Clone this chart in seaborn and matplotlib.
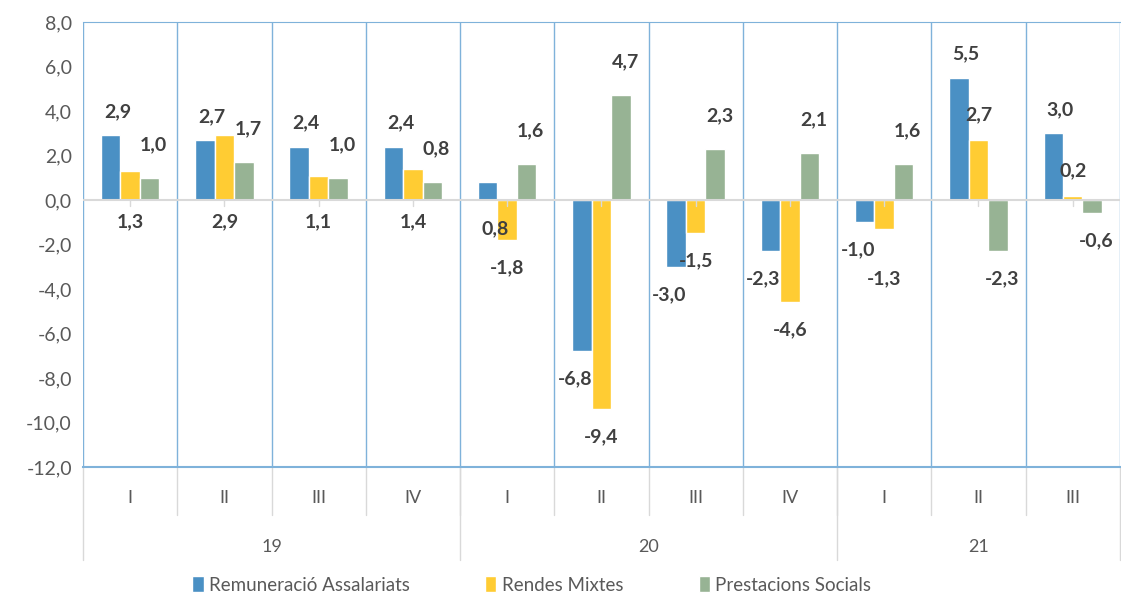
import pandas as pd
import numpy as np
import seaborn as sns
import matplotlib.pyplot as plt
from matplotlib.transforms import blended_transform_factory

years = ["19", "20", "21"]
quarters = ["I", "II", "III", "IV", "I", "II", "III", "IV", "I", "II", "III"]
quarter_year = ["19", "19", "19", "19", "20", "20", "20", "20", "21", "21", "21"]
remuneracio = [2.9, 2.7, 2.4, 2.4, 0.8, -6.8, -3.0, -2.3, -1.0, 5.5, 3.0]
rendes = [1.3, 2.9, 1.1, 1.4, -1.8, -9.4, -1.5, -4.6, -1.3, 2.7, 0.2]
prestacions = [1.0, 1.7, 1.0, 0.8, 1.6, 4.7, 2.3, 2.1, 1.6, -2.3, -0.6]
series_names = ["Remuneració Assalariats", "Rendes Mixtes", "Prestacions Socials"]
colors = ["#4A90C4", "#FFCC33", "#97B394"]

keys = [f"{y}-{q}" for y, q in zip(quarter_year, quarters)]
df = pd.DataFrame({
    "periode": keys * 3,
    "serie": np.repeat(series_names, len(keys)),
    "valor": remuneracio + rendes + prestacions,
})

sns.set_style("white")
plt.rcParams["font.family"] = ["Lato", "DejaVu Sans"]

fig = plt.figure(figsize=(11.21, 5.99), dpi=100)
ax = fig.add_axes([83 / 1121, 132 / 599, 1 - 83 / 1121 - 0.001, (467 - 22) / 599])

sns.barplot(data=df, x="periode", y="valor", hue="serie", order=keys,
            hue_order=series_names, palette=colors, width=0.62,
            saturation=1, ax=ax, legend=True)

ax.set_ylim(-12, 8)
ax.set_xlim(-0.5, len(keys) - 0.5)
yt = np.arange(-12, 9, 2)
ax.set_yticks(yt)
ax.set_yticklabels([f"{v:.1f}".replace(".", ",") for v in yt],
                   color="#595959", fontsize=14)
ax.set_xticks([])
ax.set_xlabel("")
ax.set_ylabel("")
ax.tick_params(axis="y", length=0, pad=8)

for side in ["left", "right"]:
    ax.spines[side].set_visible(False)
ax.spines["top"].set_color("#7FB2DA")
ax.spines["bottom"].set_color("#7FB2DA")
ax.spines["bottom"].set_linewidth(1.5)

# separadors entre trimestres
for i in range(len(keys) + 1):
    ax.axvline(i - 0.5, color="#7FB2DA", lw=1, zorder=0)
ax.axhline(0, color="#D9D9D9", lw=1.5, zorder=1)
for i in range(len(keys)):
    ax.plot([i, i], [0, -0.25], color="#D9D9D9", lw=1, zorder=1)

# etiquetes de dades (com a l'Excel, algunes van sota l'eix quan hi ha poc espai)
vals = [remuneracio, rendes, prestacions]
for k, (cont, sv) in enumerate(zip(ax.containers, vals)):
    for i, (bar, v) in enumerate(zip(cont, sv)):
        x = bar.get_x() + bar.get_width() / 2
        y = v
        dx = [5, 0, 3][k]
        if v >= 0:
            off = [17, 18, 24][k]
            if k == 1 and prestacions[i] > 0:
                y, off = 0, -16
            if k == 0 and rendes[i] < 0:
                y, off = 0, -21
        else:
            off = -20
            if k == 0:
                dx = -5
            if k == 1 and remuneracio[i] < 0 and abs(v - remuneracio[i]) < 0.5:
                off = -36
        ax.annotate(f"{v:.1f}".replace(".", ","), (x, y), xytext=(dx, off),
                    textcoords="offset points", ha="center", va="center",
                    fontsize=14, fontweight="bold", color="#404040")

# eix de categories jeràrquic
tr = blended_transform_factory(ax.transData, ax.transAxes)
for i, q in enumerate(quarters):
    ax.text(i, -31 / 445, q, transform=tr, ha="center", va="center",
            fontsize=13, color="#595959")
for i in range(1, len(keys)):
    ax.plot([i - 0.5, i - 0.5], [0, -48 / 445], transform=tr, color="#D9D9D9",
            lw=1, clip_on=False)
bounds = [0, 4, 8, 11]
for j, y in enumerate(years):
    ax.text((bounds[j] + bounds[j + 1]) / 2 - 0.5, -80 / 445, y, transform=tr,
            ha="center", va="center", fontsize=13, color="#595959")
for b in bounds:
    ax.plot([b - 0.5, b - 0.5], [0, -93 / 445], transform=tr, color="#D9D9D9",
            lw=1, clip_on=False)

leg = ax.legend(loc="center", bbox_to_anchor=(0.433, -118 / 445), ncol=3,
                frameon=False, fontsize=13.5, handlelength=0.6, handleheight=0.9,
                handletextpad=0.3, columnspacing=4.0)
for t in leg.get_texts():
    t.set_color("#595959")

fig.savefig("out.png", dpi=100)
